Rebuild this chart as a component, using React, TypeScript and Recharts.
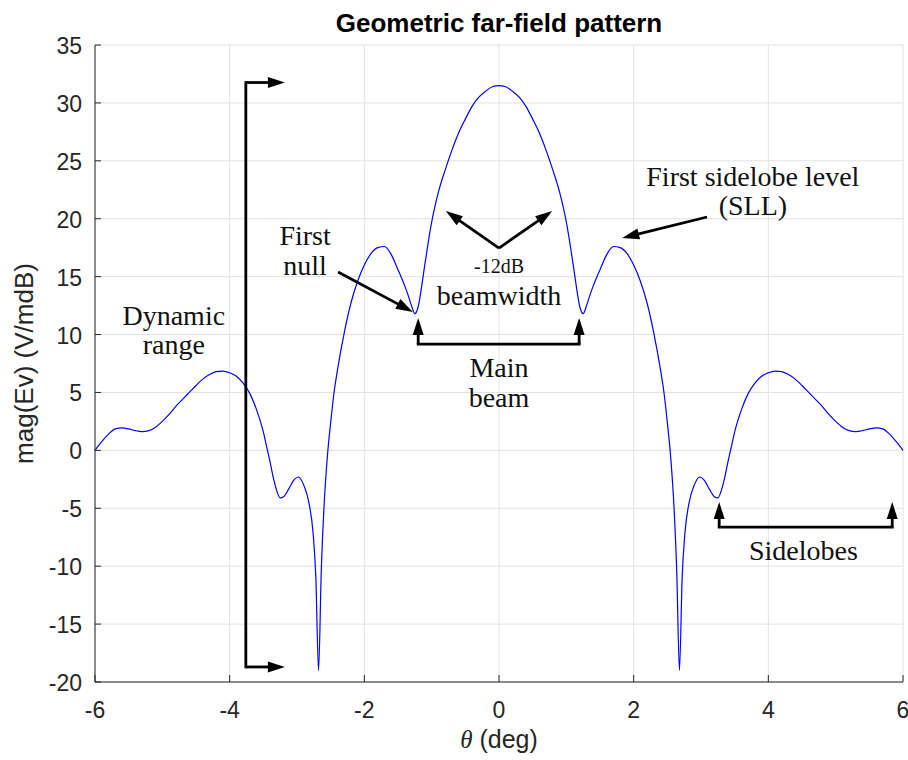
import React from "react";
import {
  LineChart,
  Line,
  XAxis,
  YAxis,
  CartesianGrid,
  ReferenceLine,
  ReferenceDot,
} from "recharts";

// far-field pattern
const theta = [
  -6.0, -5.9, -5.8, -5.7, -5.6, -5.5, -5.4, -5.3, -5.2, -5.1, -5.0, -4.9, -4.8, -4.7, -4.6, -4.5,
  -4.4, -4.3, -4.2, -4.1, -4.0, -3.9, -3.8, -3.7, -3.6, -3.5, -3.45, -3.4, -3.35, -3.3, -3.25, -3.2,
  -3.12, -3.05, -2.98, -2.9, -2.82, -2.76, -2.72, -2.68, -2.64, -2.6, -2.55, -2.5, -2.45, -2.4,
  -2.3, -2.2, -2.1, -2.0, -1.9, -1.8, -1.7, -1.6, -1.5, -1.4, -1.35, -1.3, -1.25, -1.2, -1.15, -1.1,
  -1.05, -1.0, -0.95, -0.9, -0.8, -0.7, -0.6, -0.5, -0.4, -0.3, -0.2, -0.1, 0,
  0.1, 0.2, 0.3, 0.4, 0.5, 0.6, 0.7, 0.8, 0.9, 0.95, 1.0, 1.05, 1.1, 1.15, 1.2, 1.25, 1.3, 1.35, 1.4,
  1.5, 1.6, 1.7, 1.8, 1.9, 2.0, 2.1, 2.2, 2.3, 2.4, 2.45, 2.5, 2.55, 2.6, 2.64, 2.68, 2.72, 2.76,
  2.82, 2.9, 2.98, 3.05, 3.12, 3.2, 3.25, 3.3, 3.35, 3.4, 3.45, 3.5, 3.6, 3.7, 3.8, 3.9, 4.0, 4.1,
  4.2, 4.3, 4.4, 4.5, 4.6, 4.7, 4.8, 4.9, 5.0, 5.1, 5.2, 5.3, 5.4, 5.5, 5.6, 5.7, 5.8, 5.9, 6.0,
];

const magEv = [
  0.0, 0.75, 1.4, 1.85, 1.95, 1.85, 1.7, 1.62, 1.7, 2.0, 2.5, 3.1, 3.8, 4.4, 5.0, 5.6,
  6.15, 6.55, 6.8, 6.85, 6.7, 6.4, 5.8, 4.9, 3.5, 1.6, 0.3, -1.0, -2.4, -3.5, -4.1, -4.0,
  -3.3, -2.6, -2.3, -3.0, -4.6, -7.2, -11.0, -19.0, -10.5, -5.0, -0.6, 2.4, 5.0, 6.9,
  10.1, 12.7, 14.6, 16.0, 17.0, 17.5, 17.6, 16.9, 15.6, 14.2, 13.4, 12.5, 11.8, 12.4, 14.1, 16.1,
  18.0, 19.7, 21.1, 22.3, 24.2, 25.9, 27.4, 28.6, 29.7, 30.5, 31.0, 31.4, 31.5,
  31.4, 31.0, 30.5, 29.7, 28.6, 27.4, 25.9, 24.2, 22.3, 21.1, 19.7, 18.0, 16.1, 14.1, 12.4, 11.8, 12.5, 13.4, 14.2,
  15.6, 16.9, 17.6, 17.5, 17.0, 16.0, 14.6, 12.7, 10.1, 6.9, 5.0, 2.4, -0.6, -5.0, -10.5, -19.0, -11.0, -7.2,
  -4.6, -3.0, -2.3, -2.6, -3.3, -4.0, -4.1, -3.5, -2.4, -1.0, 0.3, 1.6, 3.5, 4.9, 5.8, 6.4, 6.7, 6.85,
  6.8, 6.55, 6.15, 5.6, 5.0, 4.4, 3.8, 3.1, 2.5, 2.0, 1.7, 1.62, 1.7, 1.85, 1.95, 1.85, 1.4, 0.75, 0.0,
];

const xTicks = [-6, -4, -2, 0, 2, 4, 6];
const yTicks = [-20, -15, -10, -5, 0, 5, 10, 15, 20, 25, 30, 35];

// annotation arrows and brackets, in data units [theta, dB]
const arrows = [
  { from: [-3.76, 31.76], to: [-3.18, 31.76] },
  { from: [-3.76, -18.7], to: [-3.18, -18.7] },
  { from: [-2.39, 15.4], to: [-1.28, 11.95] },
  { from: [3.09, 20.15], to: [1.83, 18.34] },
  { from: [0, 17.47], to: [-0.79, 20.67] },
  { from: [0, 17.47], to: [0.79, 20.67] },
  { from: [-1.2, 9.18], to: [-1.2, 11.43] },
  { from: [1.19, 9.18], to: [1.19, 11.43] },
  { from: [3.27, -6.62], to: [3.27, -4.46] },
  { from: [5.84, -6.62], to: [5.84, -4.46] },
];

const brackets = [
  { from: [-3.76, 31.76], to: [-3.76, -18.7] },
  { from: [-1.2, 9.18], to: [1.19, 9.18] },
  { from: [3.27, -6.62], to: [5.84, -6.62] },
];

const notes = [
  { x: -4.83, y: 10.82, text: "Dynamic", size: 28 },
  { x: -4.83, y: 8.32, text: "range", size: 28 },
  { x: -2.88, y: 17.73, text: "First", size: 28 },
  { x: -2.88, y: 15.14, text: "null", size: 28 },
  { x: 0, y: 15.31, text: "-12dB", size: 20 },
  { x: 0, y: 12.55, text: "beamwidth", size: 28 },
  { x: 0, y: 6.33, text: "Main", size: 28 },
  { x: 0, y: 3.74, text: "beam", size: 28 },
  { x: 3.77, y: 22.86, text: "First sidelobe level", size: 28 },
  { x: 3.77, y: 20.3, text: "(SLL)", size: 28 },
  { x: 4.52, y: -9.47, text: "Sidelobes", size: 28 },
];

const data = theta.map((t, i) => ({ theta: t, mag: magEv[i] }));

const AXIS = "#262626";
const SANS = "'Liberation Sans', Arial, sans-serif";
const SERIF = "'Liberation Serif', 'Times New Roman', serif";

const ArrowShape = (p: any) => {
  const { x1, y1, x2, y2 } = p;
  const dx = x2 - x1;
  const dy = y2 - y1;
  const len = Math.sqrt(dx * dx + dy * dy) || 1;
  const ux = dx / len;
  const uy = dy / len;
  const hl = 17;
  const hw = 5.5;
  const bx = x2 - ux * hl;
  const by = y2 - uy * hl;
  const pts = `${x2},${y2} ${bx - uy * hw},${by + ux * hw} ${bx + uy * hw},${by - ux * hw}`;
  return (
    <g>
      <line x1={x1} y1={y1} x2={bx + ux * 2} y2={by + uy * 2} stroke="#000" strokeWidth={2.8} />
      <polygon points={pts} fill="#000" />
    </g>
  );
};

const LineShape = (p: any) => (
  <line x1={p.x1} y1={p.y1} x2={p.x2} y2={p.y2} stroke="#000" strokeWidth={2.8} strokeLinecap="square" />
);

const XTick = (p: any) => {
  const { x, y, payload } = p;
  return (
    <g>
      <line x1={x} y1={y} x2={x} y2={y - 7} stroke={AXIS} strokeWidth={1} />
      <text x={x} y={y + 36} textAnchor="middle" fontFamily={SANS} fontSize={23} fill={AXIS}>
        {payload.value}
      </text>
    </g>
  );
};

const YTick = (p: any) => {
  const { x, y, payload } = p;
  return (
    <g>
      <line x1={x} y1={y} x2={x + 6} y2={y} stroke={AXIS} strokeWidth={1} />
      <text x={x - 13} y={y + 9} textAnchor="end" fontFamily={SANS} fontSize={23} fill={AXIS}>
        {payload.value}
      </text>
    </g>
  );
};

export default function App() {
  return (
    <div style={{ position: "absolute", left: 0, top: 0, width: 908, height: 760, background: "#fff" }}>
      <div
        style={{
          position: "absolute",
          left: 0,
          top: 10,
          width: 998,
          textAlign: "center",
          fontFamily: SANS,
          fontWeight: "bold",
          fontSize: 26,
          lineHeight: "26px",
          color: "#000",
        }}
      >
        Geometric far-field pattern
      </div>
      <LineChart width={908} height={760} data={data} margin={{ top: 45, right: 5, bottom: 0, left: 0 }}>
        <CartesianGrid stroke="#e2e2e2" strokeWidth={1} />
        <XAxis
          dataKey="theta"
          type="number"
          domain={[-6, 6]}
          ticks={xTicks}
          height={78}
          tickSize={0}
          tickMargin={0}
          tickLine={false}
          stroke={AXIS}
          tick={<XTick />}
          interval={0}
          label={{
            content: (lp: any) => {
              const vb = lp.viewBox || { x: 95, y: 682, width: 808 };
              return (
                <text x={vb.x + vb.width / 2} y={vb.y + 66} textAnchor="middle" fontFamily={SANS} fontSize={25} fill={AXIS}>
                  <tspan fontStyle="italic" fontFamily={SERIF}>θ</tspan>
                  <tspan> (deg)</tspan>
                </text>
              );
            },
          }}
        />
        <YAxis
          type="number"
          domain={[-20, 35]}
          ticks={yTicks}
          width={95}
          tickSize={0}
          tickMargin={0}
          tickLine={false}
          stroke={AXIS}
          tick={<YTick />}
          interval={0}
          label={{
            content: (lp: any) => {
              const vb = lp.viewBox || { x: 0, y: 45, height: 637 };
              const cy = vb.y + vb.height / 2;
              return (
                <text
                  x={33}
                  y={cy}
                  transform={`rotate(-90 33 ${cy})`}
                  textAnchor="middle"
                  fontFamily={SANS}
                  fontSize={26}
                  fill={AXIS}
                >
                  mag(Ev) (V/mdB)
                </text>
              );
            },
          }}
        />
        <Line
          type="monotone"
          dataKey="mag"
          stroke="#0000ff"
          strokeWidth={1.2}
          dot={false}
          activeDot={false}
          isAnimationActive={false}
        />
        {brackets.map((b, i) => (
          <ReferenceLine
            key={`b${i}`}
            segment={[
              { x: b.from[0], y: b.from[1] },
              { x: b.to[0], y: b.to[1] },
            ]}
            shape={(p: any) => <LineShape {...p} />}
          />
        ))}
        {arrows.map((a, i) => (
          <ReferenceLine
            key={`a${i}`}
            segment={[
              { x: a.from[0], y: a.from[1] },
              { x: a.to[0], y: a.to[1] },
            ]}
            shape={(p: any) => <ArrowShape {...p} />}
          />
        ))}
        {notes.map((n, i) => (
          <ReferenceDot
            key={`n${i}`}
            x={n.x}
            y={n.y}
            r={0}
            shape={(p: any) => (
              <text x={p.cx} y={p.cy} textAnchor="middle" fontFamily={SERIF} fontSize={n.size} fill="#111">
                {n.text}
              </text>
            )}
          />
        ))}
      </LineChart>
    </div>
  );
}
